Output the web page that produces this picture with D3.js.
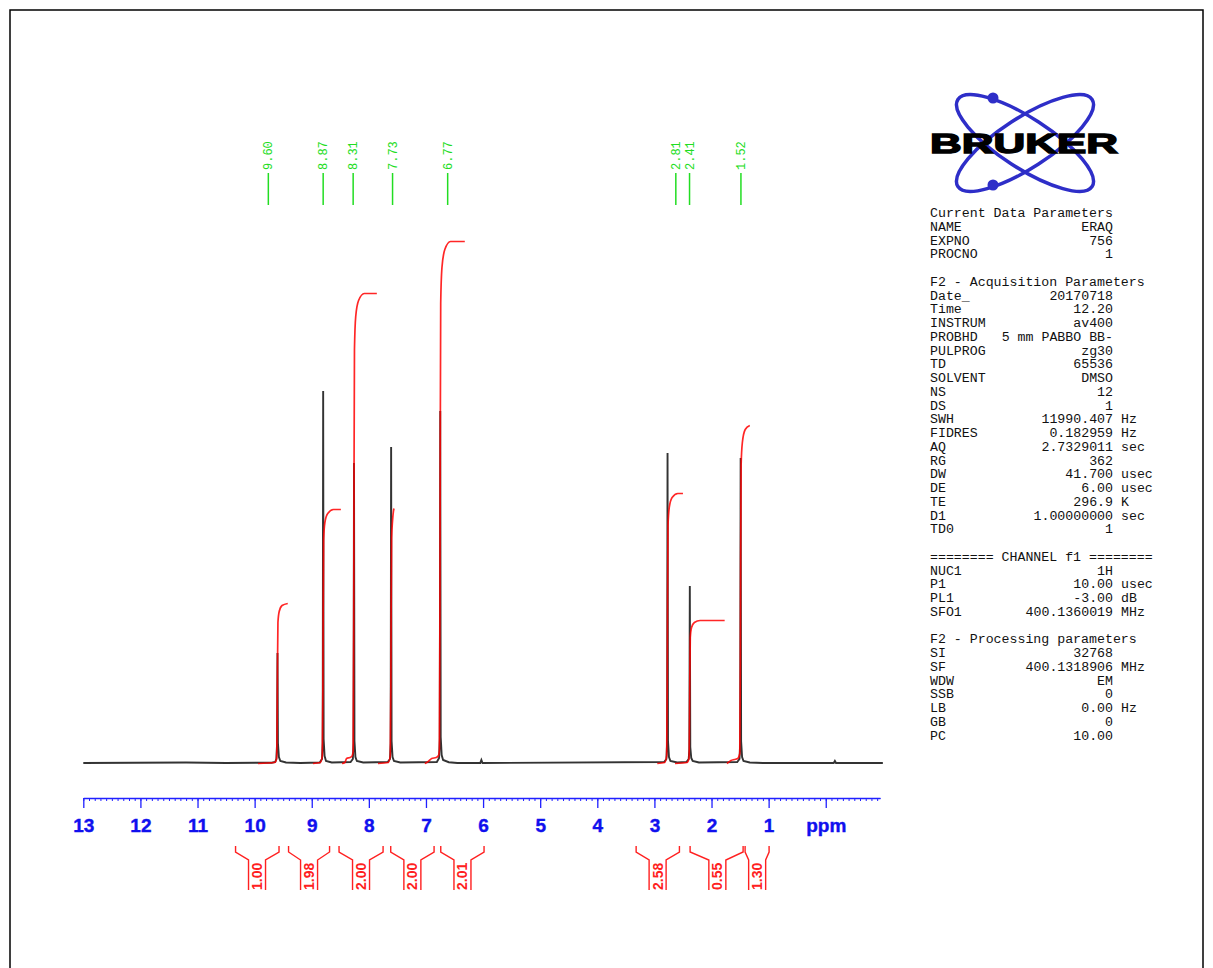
<!DOCTYPE html>
<html><head><meta charset="utf-8">
<script src="https://cdn.jsdelivr.net/npm/d3@7/dist/d3.min.js"></script>
<style>body{margin:0;background:#fff}svg{display:block}</style>
</head><body>
<svg id="c" width="1213" height="968"></svg>
<script>
// ---------- DATA ----------
const majorTicks = [13,12,11,10,9,8,7,6,5,4,3,2,1,0];
const tickLabels = ["13","12","11","10","9","8","7","6","5","4","3","2","1","ppm"];

// spectrum trace [ppm, intensity]
const spectrum = [
 [13.0,0],[11.2,0.5],[10.5,0],[9.70,0.3],[9.64,1],[9.62,4],[9.608,18],[9.60,110],[9.592,20],[9.575,6],[9.55,2],[9.45,0.5],[9.2,0],
 [8.86,0.5],[8.82,4],[8.808,20],[8.80,372],[8.792,24],[8.775,7],[8.75,2],[8.65,0.5],
 [8.32,1],[8.28,4],[8.268,20],[8.26,300],[8.252,22],[8.235,6],[8.21,2],[8.1,0.5],
 [7.67,1],[7.63,4],[7.618,20],[7.61,316],[7.602,22],[7.585,6],[7.56,2],[7.45,0.5],
 [6.81,1],[6.77,5],[6.758,24],[6.75,352],[6.742,26],[6.725,8],[6.70,3],[6.6,0.8],[6.45,0],
 [6.05,0],[6.03,3],[6.01,0],
 [2.83,1],[2.79,4],[2.778,20],[2.77,310],[2.762,22],[2.745,6],[2.72,2],[2.6,0.5],
 [2.44,1],[2.40,4],[2.388,14],[2.38,177],[2.372,16],[2.355,5],[2.33,2],[2.22,0.5],
 [1.55,1],[1.51,4],[1.498,20],[1.49,305],[1.482,22],[1.465,6],[1.44,2],[1.33,0.5],[1.1,0],
 [-0.14,0],[-0.16,2],[-0.18,0],[-1.0,0]
];

// integral curves [ppm, value]
const integral1 = [[9.94,0],[9.65,1],[9.615,5],[9.605,48],[9.60,96],[9.592,141],[9.57,152],[9.52,158],[9.42,160]];
const integral2 = [[8.98,0],[8.85,1],[8.815,8],[8.805,76],[8.80,152],[8.792,224],[8.77,241],[8.72,250],[8.62,254],[8.49,254]];
const integral3 = [[8.47,0],[8.42,1],[8.39,5],[8.33,6],[8.30,7],[8.275,12],[8.265,140],[8.26,282],[8.252,414],[8.23,447],[8.18,463],[8.08,470],[7.86,470]];
const integral4 = [[7.84,0],[7.66,1],[7.625,8],[7.615,77],[7.61,153],[7.602,225],[7.585,243],[7.57,252],[7.56,255]];
const integral5 = [[7.02,0],[6.96,2],[6.90,5],[6.82,6],[6.78,8],[6.765,14],[6.755,157],[6.75,313],[6.742,460],[6.72,496],[6.67,514],[6.57,522],[6.32,522]];
const integral6 = [[2.95,0],[2.82,1],[2.785,8],[2.775,81],[2.77,162],[2.762,238],[2.74,256],[2.69,266],[2.59,270],[2.50,270]];
const integral7 = [[2.64,0],[2.43,1],[2.395,5],[2.385,43],[2.38,86],[2.372,126],[2.35,136],[2.30,141],[2.20,143],[1.77,143]];
const integral8 = [[1.73,0],[1.66,3],[1.60,4],[1.54,5],[1.505,10],[1.495,101],[1.49,203],[1.482,298],[1.46,321],[1.41,334],[1.33,338]];
const integrals = [integral1,integral2,integral3,integral4,integral5,integral6,integral7,integral8];

// peak labels (text, placed position in ppm)
const peakLabels = ["9.60","8.87","8.31","7.73","6.77","2.81","2.41","1.52"];
const peakLabelPos = [9.76,8.80,8.275,7.585,6.62,2.625,2.385,1.485];

// integral values and bracket extents (ppm)
const integralValues = ["1.00","1.98","2.00","2.00","2.01","2.58","0.55","1.30"];
const bracketLeft  = [10.334,9.406,8.522,7.617,6.741,3.320,2.375,1.412];
const bracketRight = [9.573,8.688,7.751,6.858,5.983,2.562,1.447,0.992];
const bracketCenter= [9.958,9.047,8.137,7.238,6.361,2.944,1.898,1.201];

// acquisition parameters
const paramRows = [
 ["Current Data Parameters"],["NAME","ERAQ"],["EXPNO","756"],["PROCNO","1"],[],
 ["F2 - Acquisition Parameters"],["Date_","20170718"],["Time","12.20"],["INSTRUM","av400"],
 ["PROBHD","5 mm PABBO BB-"],["PULPROG","zg30"],["TD","65536"],["SOLVENT","DMSO"],["NS","12"],
 ["DS","1"],["SWH","11990.407","Hz"],["FIDRES","0.182959","Hz"],["AQ","2.7329011","sec"],
 ["RG","362"],["DW","41.700","usec"],["DE","6.00","usec"],["TE","296.9","K"],
 ["D1","1.00000000","sec"],["TD0","1"],[],
 ["======== CHANNEL f1 ========"],["NUC1","1H"],["P1","10.00","usec"],["PL1","-3.00","dB"],
 ["SFO1","400.1360019","MHz"],[],
 ["F2 - Processing parameters"],["SI","32768"],["SF","400.1318906","MHz"],["WDW","EM"],
 ["SSB","0"],["LB","0.00","Hz"],["GB","0"],["PC","10.00"]
];

// ---------- DRAW ----------
const svg = d3.select("#c");
svg.append("rect").attr("x",10).attr("y",10).attr("width",1193).attr("height",1000)
  .attr("fill","none").attr("stroke","#000").attr("stroke-width",1.5);

const x = d3.scaleLinear().domain([13,-0.95]).range([83.3,880]);
const y = d3.scaleLinear().domain([0,600]).range([763,163]);

// spectrum
svg.append("path").datum(spectrum)
  .attr("d", d3.line().x(d=>x(d[0])).y(d=>y(d[1])))
  .attr("fill","none").attr("stroke","#333").attr("stroke-width",1.9);

// integrals
const iline = d3.line().x(d=>x(d[0])).y(d=>y(d[1])+0.5).curve(d3.curveMonotoneX);
svg.append("g").selectAll("path").data(integrals).join("path")
  .attr("d", iline).attr("fill","none").attr("stroke","#ff0000")
  .attr("stroke-opacity",0.85).attr("stroke-width",1.7);

// axis
const axY = 798;
const minor = d3.range(130,-10,-1).map(v=>v/10);
svg.append("g").attr("transform",`translate(0,${axY})`)
  .call(d3.axisBottom(x).tickValues(minor).tickSize(3).tickSizeOuter(0).tickFormat(""))
  .call(g=>g.selectAll("line,path").attr("stroke","#2020ff").attr("stroke-width",1));
const ax = svg.append("g").attr("transform",`translate(0,${axY})`)
  .call(d3.axisBottom(x).tickValues(majorTicks).tickSize(10).tickSizeOuter(0)
        .tickFormat((d,i)=>tickLabels[i]));
ax.select(".domain").attr("stroke","#2020ff").attr("stroke-width",1.5);
ax.selectAll(".tick line").attr("stroke","#2020ff").attr("stroke-width",1.3);
ax.selectAll(".tick text").attr("fill","#1010ee").attr("y",20.5)
  .attr("stroke","#1010ee").attr("stroke-width",0.4)
  .style("font-family","'Liberation Sans',Arial,sans-serif").style("font-weight","bold").style("font-size","19px");

// peak labels
const pl = svg.append("g");
peakLabels.forEach((t,i)=>{
  const px = x(peakLabelPos[i]);
  pl.append("line").attr("x1",px).attr("x2",px).attr("y1",173).attr("y2",205)
    .attr("stroke","#22dd22").attr("stroke-width",1.5);
  pl.append("text").attr("transform",`translate(${px+4},170) rotate(-90)`)
    .attr("fill","#22dd22").style("font-family","'Liberation Mono',monospace").style("font-size","12px")
    .text(t);
});

// integral brackets
const br = svg.append("g");
integralValues.forEach((t,i)=>{
  const l = x(bracketLeft[i]), r = x(bracketRight[i]), c = x(bracketCenter[i]), h = 8.5;
  br.append("path").attr("d",
    `M${l},846 L${l},852 L${c-h},860 L${c-h},890 M${c+h},890 L${c+h},860 L${r},852 L${r},846`)
    .attr("fill","none").attr("stroke","#ff2020").attr("stroke-width",1.4);
  br.append("text").attr("transform",`translate(${c+5},890) rotate(-90)`)
    .attr("fill","#ff2020").style("font-family","'Liberation Sans',Arial,sans-serif")
    .style("font-weight","bold").style("font-size","14px").text(t);
});

// Bruker logo
const logo = svg.append("g");
[[-33],[33]].forEach(a=>{
  logo.append("ellipse").attr("cx",1025).attr("cy",143).attr("rx",80).attr("ry",25)
    .attr("transform",`rotate(${a[0]},1025,143)`).attr("fill","none")
    .attr("stroke","#2e2ec8").attr("stroke-width",3.5);
});
logo.append("circle").attr("cx",993).attr("cy",98).attr("r",5.5).attr("fill","#2e2ec8");
logo.append("circle").attr("cx",993).attr("cy",185).attr("r",5.5).attr("fill","#2e2ec8");
logo.append("text").attr("x",930).attr("y",153).attr("textLength",188).attr("lengthAdjust","spacingAndGlyphs")
  .attr("fill","#000").attr("stroke","#000").attr("stroke-width",1.4)
  .style("font-family","'Liberation Sans',Arial,sans-serif").style("font-weight","900").style("font-size","28px")
  .text("BRUKER");

// parameter block
const pg = svg.append("g").style("font-family","'Liberation Mono','Courier New',monospace")
  .style("font-size","13.25px").attr("fill","#111");
paramRows.forEach((r,i)=>{
  const yy = 217 + i*13.75;
  if(r.length===0) return;
  pg.append("text").attr("x",930).attr("y",yy).style("white-space","pre").text(r[0]);
  if(r[1]!==undefined) pg.append("text").attr("x",1113).attr("y",yy).attr("text-anchor","end").style("white-space","pre").text(r[1]);
  if(r[2]!==undefined) pg.append("text").attr("x",1121).attr("y",yy).text(r[2]);
});
</script>
</body></html>
